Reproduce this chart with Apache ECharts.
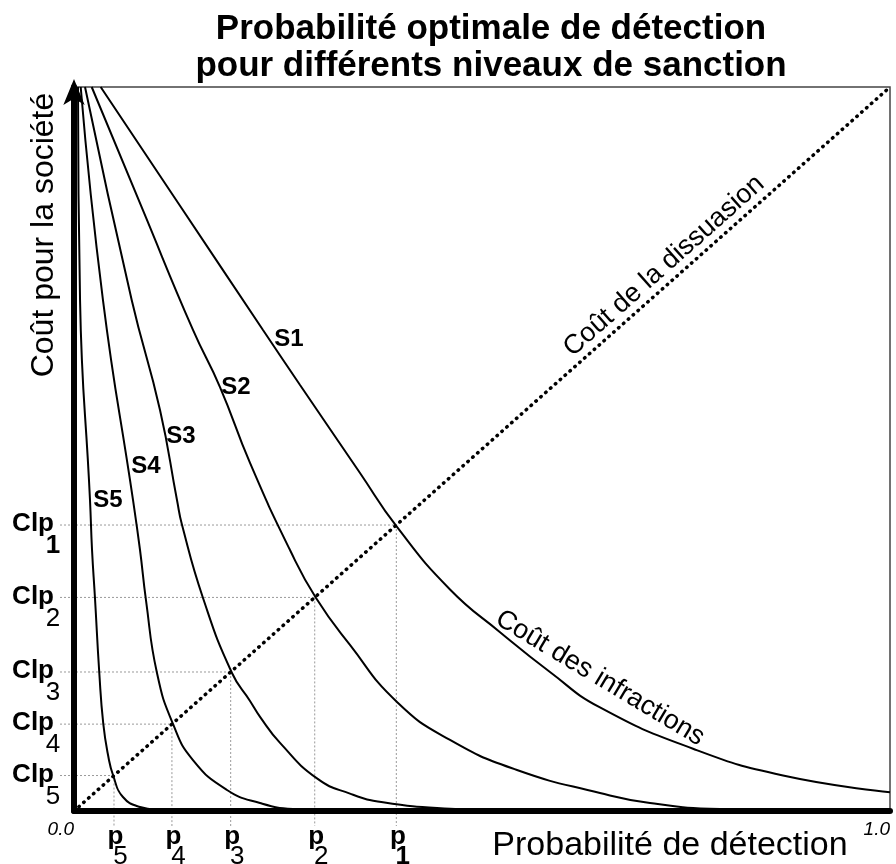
<!DOCTYPE html>
<html><head><meta charset="utf-8">
<script src="https://cdn.jsdelivr.net/npm/echarts@6/dist/echarts.min.js"></script>
<style>html,body{margin:0;padding:0;background:#fff}#c{width:896px;height:864px}</style>
</head><body><div id="c"></div>
<script>
// ---------- data ----------
const titleText = 'Probabilité optimale de détection\npour différents niveaux de sanction';
const xAxisName = 'Probabilité de détection';
const yAxisName = 'Coût pour la société';
const xTickLabels = ['0.0', '1.0'];
const curveNames = ['S1', 'S2', 'S3', 'S4', 'S5'];
const deterrenceName = 'Coût de la dissuasion';
const infractionName = 'Coût des infractions';
const clpLabel = 'Clp';
const pLabel = 'p';
const subscripts = ['1', '2', '3', '4', '5'];
// optimal probabilities p1..p5 (intersection with the deterrence cost line y = x)
const optimalP = [0.395, 0.295, 0.192, 0.120, 0.049];
// deterrence cost (dotted diagonal)
const deterrence = [[0, 0], [1, 1]];
// infraction cost curves for sanction levels S1..S5
const S1 = [[0.0327,1.0],[0.1299,0.836],[0.2316,0.6644],[0.277,0.5884],[0.3505,0.4669],[0.3958,0.3923],[0.4608,0.306],[0.5221,0.247],[0.5833,0.192],[0.6446,0.143],[0.7586,0.086],[0.8689,0.049],[1.0,0.026]];
const S2 = [[0.0217,1.0],[0.0833,0.8329],[0.1458,0.6644],[0.1789,0.5856],[0.2157,0.4807],[0.2647,0.3605],[0.2966,0.2942],[0.3382,0.2293],[0.3958,0.1506],[0.4608,0.0981],[0.5429,0.0566],[0.6446,0.0249],[0.7059,0.011],[0.7917,0.0028],[1.0,0]];
const S3 = [[0.0135,1.0],[0.0707,0.7058],[0.1054,0.5539],[0.1262,0.4296],[0.1324,0.395],[0.1581,0.2942],[0.1936,0.1906],[0.2157,0.152],[0.228,0.13],[0.2525,0.094],[0.2978,0.045],[0.3382,0.024],[0.3787,0.012],[0.4608,0.003],[0.55,0]];
const S4 = [[0.0082,1.0],[0.0355,0.7058],[0.0723,0.4296],[0.0809,0.3605],[0.0882,0.2914],[0.1017,0.1906],[0.1213,0.1202],[0.1458,0.0704],[0.1875,0.029],[0.2279,0.011],[0.2684,0.0028],[0.35,0]];
const S5 = [[0.0049,1.0],[0.0074,0.7058],[0.0196,0.4296],[0.0221,0.3605],[0.0257,0.2942],[0.031,0.1906],[0.0359,0.1202],[0.0417,0.0773],[0.0482,0.0483],[0.06,0.0193],[0.0809,0.0055],[0.1054,0.0014],[0.15,0]];
const curves = [S1, S2, S3, S4, S5];

// ---------- chart ----------
const FF = '"Liberation Sans", Arial, Helvetica, sans-serif';
const chart = echarts.init(document.getElementById('c'), null, {renderer: 'canvas'});

const curveSeries = curves.map((d, i) => ({
  name: curveNames[i], type: 'line', data: d, symbol: 'none', smooth: 0.5,
  lineStyle: {color: '#000', width: 2}, z: 2, silent: true
}));

const labelFont = 'bold 26px ' + FF;
const subFontFor = i => (i === 0 ? 'bold ' : '') + '26px ' + FF;

const option = {
  animation: false,
  backgroundColor: '#fff',
  title: {
    text: titleText, left: 486, top: 6, textAlign: 'center',
    textStyle: {fontFamily: FF, fontWeight: 'bold', fontSize: 35, lineHeight: 37, color: '#000'}
  },
  grid: {left: 74, right: 6, top: 87, bottom: 53, show: true, borderColor: '#444', borderWidth: 1.5, containLabel: false},
  xAxis: {
    type: 'value', min: 0, max: 1, interval: 1, z: 3,
    axisLine: {show: true, lineStyle: {color: '#000', width: 6}},
    axisTick: {show: false}, splitLine: {show: false},
    axisLabel: {show: true, margin: 9, align: 'right', fontFamily: FF, fontStyle: 'italic', fontSize: 19, color: '#000',
      formatter: v => (v === 0 ? xTickLabels[0] : xTickLabels[1])}
  },
  yAxis: {
    type: 'value', min: 0, max: 1, z: 3,
    axisLine: {show: true, lineStyle: {color: '#000', width: 6}, symbol: ['none', 'arrow'], symbolSize: [16, 26], symbolOffset: [0, 8]},
    axisTick: {show: false}, splitLine: {show: false}, axisLabel: {show: false}
  },
  series: [
    {
      type: 'custom', clip: false, silent: true, z: 1,
      data: optimalP.map((p, i) => [p, p, i]),
      renderItem: (params, api) => {
        const p = api.value(0);
        const pt = api.coord([p, p]);
        const o = api.coord([0, 0]);
        const st = {stroke: '#9a9a9a', lineWidth: 1, lineDash: [2, 2]};
        return {type: 'group', children: [
          {type: 'line', shape: {x1: o[0] - 14, y1: pt[1], x2: pt[0], y2: pt[1]}, style: st},
          {type: 'line', shape: {x1: pt[0], y1: pt[1], x2: pt[0], y2: o[1] + 15}, style: st}
        ]};
      }
    },
    {
      type: 'custom', clip: false, silent: true, z: 6,
      data: optimalP.map((p, i) => [p, p, i]),
      renderItem: (params, api) => {
        const p = api.value(0);
        const i = api.value(2);
        const pt = api.coord([p, p]);
        const o = api.coord([0, 0]);
        return {type: 'group', children: [
          {type: 'text', style: {text: clpLabel, x: o[0] - 20, y: pt[1] - 1, align: 'right', verticalAlign: 'middle', font: labelFont, fill: '#000'}},
          {type: 'text', style: {text: subscripts[i], x: o[0] - 21, y: pt[1] + 21, align: 'center', verticalAlign: 'middle', font: subFontFor(i), fill: '#000'}},
          {type: 'text', style: {text: pLabel, x: pt[0] + 1.5, y: o[1] + 26, align: 'center', verticalAlign: 'middle', font: labelFont, fill: '#000'}},
          {type: 'text', style: {text: subscripts[i], x: pt[0] + 6.5, y: o[1] + 46, align: 'center', verticalAlign: 'middle', font: subFontFor(i), fill: '#000'}}
        ]};
      }
    },
    {
      name: deterrenceName, type: 'line', data: deterrence, symbol: 'none', z: 2, silent: true,
      lineStyle: {color: '#000', width: 3.5, type: [0.5, 6], cap: 'round'}
    }
  ].concat(curveSeries),
  graphic: [
    {type: 'text', x: 44, y: 235, rotation: Math.PI / 2, style: {text: yAxisName, font: '32px ' + FF, fill: '#000', align: 'center', verticalAlign: 'middle'}},
    {type: 'text', x: 670, y: 846, style: {text: xAxisName, font: '34px ' + FF, fill: '#000', align: 'center', verticalAlign: 'middle'}},
    {type: 'text', x: 664, y: 266, rotation: 41.6 * Math.PI / 180, style: {text: deterrenceName, font: '27px ' + FF, fill: '#000', align: 'center', verticalAlign: 'middle'}},
    {type: 'text', x: 600, y: 678, rotation: -31 * Math.PI / 180, style: {text: infractionName, font: '27px ' + FF, fill: '#000', align: 'center', verticalAlign: 'middle'}},
    {type: 'text', x: 289, y: 339, style: {text: curveNames[0], font: 'bold 24px ' + FF, fill: '#000', align: 'center', verticalAlign: 'middle'}},
    {type: 'text', x: 236, y: 387, style: {text: curveNames[1], font: 'bold 24px ' + FF, fill: '#000', align: 'center', verticalAlign: 'middle'}},
    {type: 'text', x: 181, y: 436, style: {text: curveNames[2], font: 'bold 24px ' + FF, fill: '#000', align: 'center', verticalAlign: 'middle'}},
    {type: 'text', x: 146, y: 466, style: {text: curveNames[3], font: 'bold 24px ' + FF, fill: '#000', align: 'center', verticalAlign: 'middle'}},
    {type: 'text', x: 108, y: 500, style: {text: curveNames[4], font: 'bold 24px ' + FF, fill: '#000', align: 'center', verticalAlign: 'middle'}}
  ]
};
chart.setOption(option);
</script>
</body></html>
